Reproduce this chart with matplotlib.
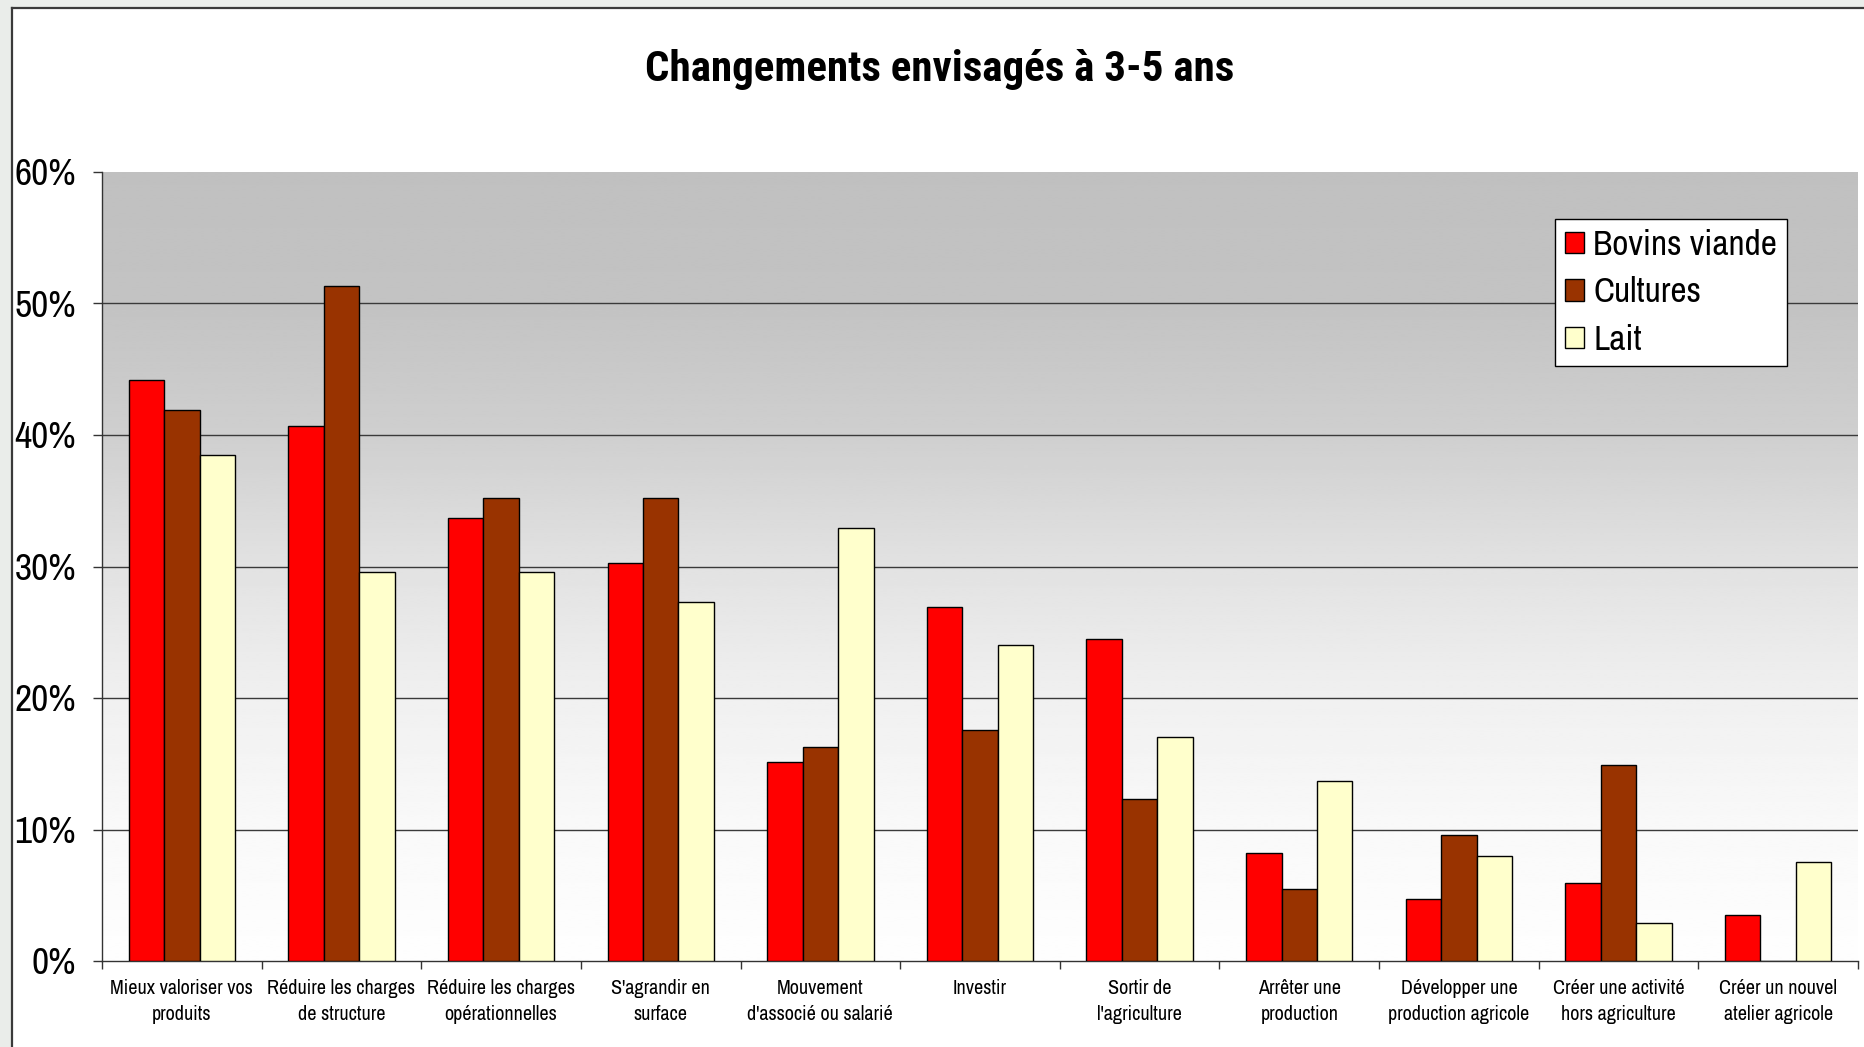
import numpy as np
import matplotlib
matplotlib.use("Agg")
import matplotlib.pyplot as plt
from matplotlib.patches import Rectangle
from matplotlib.lines import Line2D
from matplotlib.ticker import FixedLocator, FuncFormatter

categories = [
    "Mieux valoriser vos\nproduits",
    "Réduire les charges\nde structure",
    "Réduire les charges\nopérationnelles",
    "S'agrandir en\nsurface",
    "Mouvement\nd'associé ou salarié",
    "Investir",
    "Sortir de\nl'agriculture",
    "Arrêter une\nproduction",
    "Développer une\nproduction agricole",
    "Créer une activité\nhors agriculture",
    "Créer un nouvel\natelier agricole",
]
bovins_viande = [44.2, 40.7, 33.7, 30.3, 15.1, 26.9, 24.5, 8.2, 4.7, 5.9, 3.5]
cultures = [41.9, 51.3, 35.2, 35.2, 16.3, 17.6, 12.3, 5.5, 9.6, 14.9, 0.0]
lait = [38.5, 29.6, 29.6, 27.3, 32.9, 24.0, 17.0, 13.7, 8.0, 2.9, 7.5]
series_names = ["Bovins viande", "Cultures", "Lait"]
yticks = [0, 10, 20, 30, 40, 50, 60]
title = "Changements envisagés à 3-5 ans"

colors = ["#FF0000", "#993300", "#FFFFCC"]
FONT = ["Archivo Narrow", "Liberation Sans", "DejaVu Sans"]
TITLE_FONT = ["Roboto Condensed", "PT Sans Narrow", "Liberation Sans", "DejaVu Sans"]
plt.rcParams["font.family"] = FONT

W, H = 1865, 1047
fig = plt.figure(figsize=(W / 100, H / 100), dpi=100)
fig.patch.set_facecolor("white")
# light strips outside the chart border (left and top)
fig.patches.append(Rectangle((0, 0), 12 / W, 1, transform=fig.transFigure,
                             facecolor="#eaedea", edgecolor="none", zorder=-5))
fig.patches.append(Rectangle((0, 1 - 8 / H), 1, 8 / H, transform=fig.transFigure,
                             facecolor="#eaedea", edgecolor="none", zorder=-5))
fig.add_artist(Line2D([12 / W, 12 / W], [0, 1 - 8 / H], transform=fig.transFigure,
                      color="#3a3a3a", linewidth=1.6))
fig.add_artist(Line2D([12 / W, 1], [1 - 8 / H, 1 - 8 / H], transform=fig.transFigure,
                      color="#3a3a3a", linewidth=1.6))

left, right, top, bottom = 102 / W, 1858 / W, 172 / H, 961 / H
ax = fig.add_axes([left, 1 - bottom, right - left, bottom - top])

# gradient background
t = np.linspace(0, 1, 300)
vals = np.interp(t, [0, 0.167, 0.333, 0.5, 0.667, 0.833, 1.0],
                 [254, 249, 240, 226, 207, 195, 192]) / 255.0
grad = np.repeat(vals[:, None], 2, axis=1)
ax.imshow(grad, extent=[0, 1, 0, 1], transform=ax.transAxes, origin="lower",
          aspect="auto", cmap="gray", vmin=0, vmax=1, zorder=0,
          interpolation="bilinear")

n = len(categories)
x = np.arange(n)
w = 1 / 4.5
for j, (vals_s, name) in enumerate(zip([bovins_viande, cultures, lait], series_names)):
    ax.bar(x + (j - 1) * w, vals_s, width=w, color=colors[j], edgecolor="black",
           linewidth=1.0, label=name, zorder=3)

ax.set_xlim(-0.5, n - 0.5)
ax.set_ylim(0, 60)

ax.yaxis.set_major_locator(FixedLocator(yticks))
ax.yaxis.set_major_formatter(FuncFormatter(lambda v, p: f"{int(v)}%"))
ax.tick_params(axis="y", which="major", direction="out", length=6.5, width=1,
               color="#333333", pad=12, labelsize=27)
ax.yaxis.grid(True, color="#3a3a3a", linewidth=1.0, zorder=1)
ax.set_axisbelow(True)
gl = ax.get_ygridlines()
gl[-1].set_visible(False)
gl[0].set_visible(False)

ax.xaxis.set_major_locator(FixedLocator(np.arange(-0.5, n, 1.0)))
ax.xaxis.set_major_formatter(FuncFormatter(lambda v, p: ""))
ax.xaxis.set_minor_locator(FixedLocator(x))
ax.set_xticklabels(categories, minor=True, linespacing=1.45)
ax.tick_params(axis="x", which="major", direction="out", length=6, width=1,
               color="#333333")
ax.tick_params(axis="x", which="minor", length=0, pad=13, labelsize=14.5)

for s in ["top", "right"]:
    ax.spines[s].set_visible(False)
for s in ["left", "bottom"]:
    ax.spines[s].set_color("#333333")
    ax.spines[s].set_linewidth(1.0)

leg = ax.legend(loc="upper left", bbox_to_anchor=((1555 - 102) / 1756, (961 - 219) / 789),
                borderaxespad=0, fontsize=25.5, frameon=True, fancybox=False,
                edgecolor="black", facecolor="white", framealpha=1,
                handlelength=0.55, handleheight=0.55, handletextpad=0.25,
                labelspacing=0.44, borderpad=0.28)
leg.get_frame().set_linewidth(1.0)

fig.text(940 / W, 1 - 69 / H, title, ha="center", va="center", fontsize=31,
         fontweight="bold", family=TITLE_FONT)

fig.savefig("out.png", dpi=100, facecolor=fig.get_facecolor())
